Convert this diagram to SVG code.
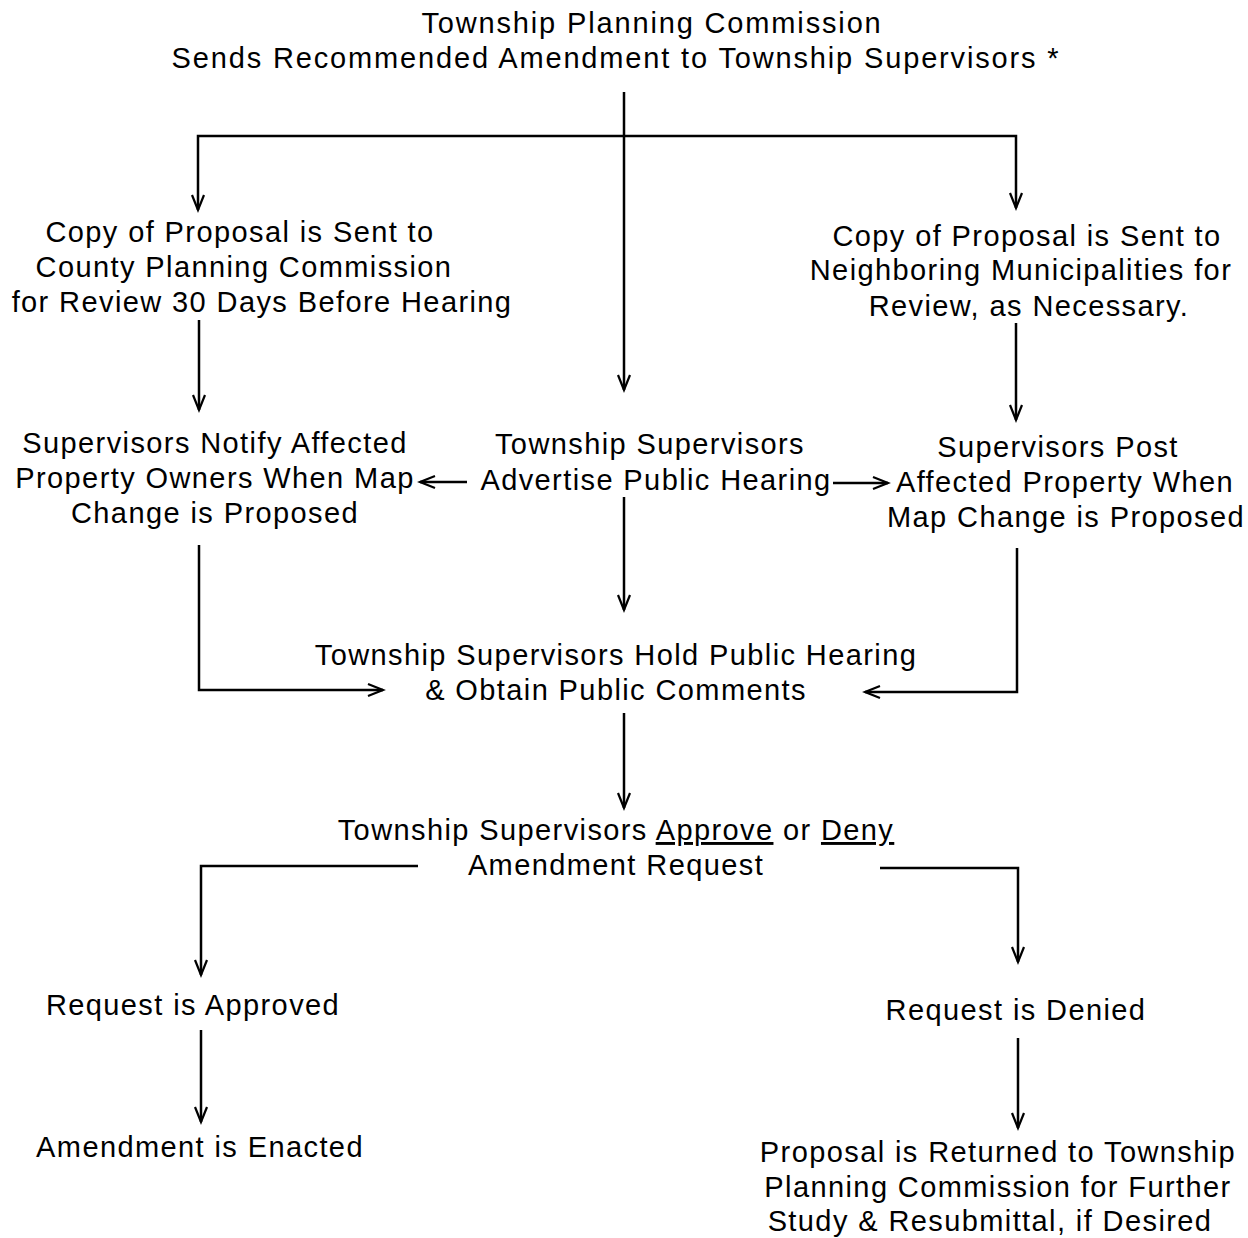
<svg xmlns="http://www.w3.org/2000/svg" width="1248" height="1238" viewBox="0 0 1248 1238">
<defs>
<style>
text{font-family:"Liberation Sans",Arial,Helvetica,sans-serif;font-size:29px;letter-spacing:1.4px;fill:#000;text-anchor:middle}
.t{letter-spacing:1.85px}
.c{fill:none;stroke:#000;stroke-width:2.5}
.u{text-decoration:underline}
</style>
<marker id="ah" markerUnits="userSpaceOnUse" markerWidth="20" markerHeight="16" viewBox="-16 -8 18 16" refX="0" refY="0" orient="auto" overflow="visible">
<path d="M-15,-6 L0,0 L-15,6" fill="none" stroke="#000" stroke-width="2.2"/>
</marker>
</defs>
<rect width="1248" height="1238" fill="#fff"/>
<g id="connectors">
<path class="c" d="M624,92 V390" marker-end="url(#ah)"/>
<path class="c" d="M624,136 H198 V210" marker-end="url(#ah)"/>
<path class="c" d="M624,136 H1016 V208" marker-end="url(#ah)"/>
<path class="c" d="M199,320 V410" marker-end="url(#ah)"/>
<path class="c" d="M1016,323 V420" marker-end="url(#ah)"/>
<path class="c" d="M467,482 H420" marker-end="url(#ah)"/>
<path class="c" d="M833,483 H888" marker-end="url(#ah)"/>
<path class="c" d="M624,497 V610" marker-end="url(#ah)"/>
<path class="c" d="M199,545 V690 H383" marker-end="url(#ah)"/>
<path class="c" d="M1017,548 V692 H865" marker-end="url(#ah)"/>
<path class="c" d="M624,713 V808" marker-end="url(#ah)"/>
<path class="c" d="M418,866 H201 V975" marker-end="url(#ah)"/>
<path class="c" d="M880,868 H1018 V962" marker-end="url(#ah)"/>
<path class="c" d="M201,1030 V1122" marker-end="url(#ah)"/>
<path class="c" d="M1018,1038 V1128" marker-end="url(#ah)"/>
</g>
<g id="n-start">
<text class="t" x="652" y="33">Township Planning Commission</text>
<text class="t" x="616" y="68">Sends Recommended Amendment to Township Supervisors *</text>
</g>
<g id="n-county">
<text x="240" y="242">Copy of Proposal is Sent to</text>
<text x="244" y="277">County Planning Commission</text>
<text x="262" y="312">for Review 30 Days Before Hearing</text>
</g>
<g id="n-neighbor">
<text x="1027" y="246">Copy of Proposal is Sent to</text>
<text x="1021" y="280">Neighboring Municipalities for</text>
<text x="1029" y="316">Review, as Necessary.</text>
</g>
<g id="n-notify">
<text x="215" y="453">Supervisors Notify Affected</text>
<text x="215" y="488">Property Owners When Map</text>
<text x="215" y="523">Change is Proposed</text>
</g>
<g id="n-advertise">
<text x="650" y="454">Township Supervisors</text>
<text x="656" y="490">Advertise Public Hearing</text>
</g>
<g id="n-post">
<text x="1058" y="457">Supervisors Post</text>
<text x="1065" y="492">Affected Property When</text>
<text x="1066" y="527">Map Change is Proposed</text>
</g>
<g id="n-hearing">
<text x="616" y="665">Township Supervisors Hold Public Hearing</text>
<text x="616" y="700">&amp; Obtain Public Comments</text>
</g>
<g id="n-decision">
<text x="616" y="840">Township Supervisors <tspan class="u">Approve</tspan> or <tspan class="u">Deny</tspan></text>
<text x="616" y="875">Amendment Request</text>
</g>
<g id="n-approved">
<text x="193" y="1015">Request is Approved</text>
</g>
<g id="n-denied">
<text x="1016" y="1020">Request is Denied</text>
</g>
<g id="n-enacted">
<text x="200" y="1157">Amendment is Enacted</text>
</g>
<g id="n-returned">
<text x="998" y="1162">Proposal is Returned to Township</text>
<text x="998" y="1197">Planning Commission for Further</text>
<text x="990" y="1231">Study &amp; Resubmittal, if Desired</text>
</g>
</svg>
